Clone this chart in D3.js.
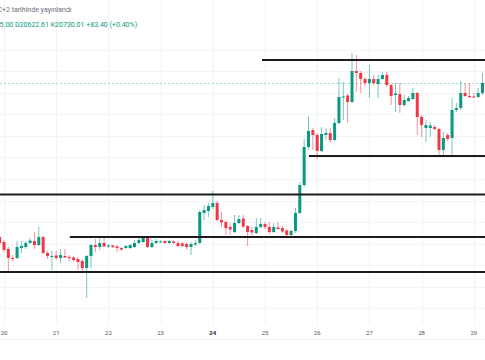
<!DOCTYPE html>
<html><head><meta charset="utf-8">
<script src="https://cdn.jsdelivr.net/npm/d3@7"></script>
<style>html,body{margin:0;padding:0;background:#fff;overflow:hidden}svg{display:block}</style>
</head><body>
<svg id="c" width="485" height="360"></svg>
<script>
// ---- data ----
const dayValues = [20, 21, 22, 23, 24, 25, 26, 27, 28, 29];
const dayLabels = ["20", "21", "22", "23", "24", "25", "26", "27", "28", "29"];
const boldDay = 24;
const firstCandleHour = -2;   // hours after Oct 20 00:00
const candleStepHours = 2;    // 2h candles

const opens = [
  19190,19140,19070,18980,18980,19080,19090,19130,19150,19110,19190,19030,
  18990,19005,18980,19000,18990,18985,18970,18950,18880,19000,19110,19090,
  19130,19095,19105,19095,19080,19080,19080,19090,19130,19140,19180,19090,
  19130,19135,19150,19130,19145,19130,19125,19120,19090,19115,19130,19430,
  19450,19490,19530,19360,19340,19290,19240,19330,19375,19300,19260,19230,
  19290,19320,19290,19240,19285,19280,19255,19210,19250,19430,19710,20090,
  20260,20210,20050,20210,20230,20160,20330,20585,20605,20540,20850,20830,
  20770,20730,20770,20720,20770,20810,20710,20610,20620,20510,20550,20570,
  20630,20390,20280,20280,20290,20270,20060,20210,20180,20460,20480,20630,
  20600,20595,20590,20630];
const highs = [
  19230,19160,19090,19010,19150,19150,19150,19180,19240,19290,19200,19050,
  19050,19050,19070,19070,19010,19000,18990,18970,19010,19120,19170,19190,
  19190,19120,19110,19110,19090,19110,19120,19160,19190,19190,19190,19160,
  19170,19160,19160,19160,19160,19150,19140,19140,19140,19160,19460,19510,
  19530,19650,19550,19440,19360,19330,19410,19410,19410,19310,19290,19380,
  19380,19340,19340,19330,19340,19300,19270,19260,19480,19740,20170,20400,
  20280,20230,20290,20280,20280,20380,20780,20740,20620,21030,21010,20850,
  20790,20910,20810,20810,20840,20840,20720,20730,20730,20610,20600,20680,
  20640,20410,20360,20340,20310,20280,20240,20230,20580,20530,20750,20730,
  20730,20630,20680,20830];
const lows = [
  19110,19040,18830,18950,18970,19030,19070,19120,19070,19100,19020,18970,
  18860,18960,18930,18980,18950,18940,18860,18840,18580,18880,19040,19060,
  19090,19080,19080,19040,19050,19070,19070,19080,19120,19130,19080,19080,
  19120,19130,19120,19120,19120,19090,19090,19060,19010,19100,19120,19360,
  19390,19470,19350,19290,19210,19210,19230,19320,19280,19100,19180,19220,
  19280,19270,19220,19230,19260,19230,19200,19200,19230,19420,19690,20060,
  20060,19970,20040,20160,20130,20150,20310,20360,20330,20530,20640,20630,
  20700,20580,20710,20580,20760,20690,20510,20440,20430,20490,20540,20560,
  20210,20190,20140,20190,20260,20010,20010,20150,19990,20440,20460,20590,
  20580,20580,20580,20610];
const closes = [
  19130,19060,18980,18970,19090,19100,19130,19155,19110,19190,19030,19000,
  19000,18980,19010,18985,18980,18960,18940,18880,19000,19110,19090,19130,
  19095,19105,19090,19080,19065,19100,19110,19130,19160,19185,19090,19130,
  19150,19145,19130,19150,19130,19100,19100,19090,19120,19130,19440,19460,
  19500,19530,19360,19335,19280,19265,19330,19370,19295,19240,19235,19290,
  19320,19290,19240,19290,19270,19245,19210,19250,19430,19710,20090,20250,
  20210,20050,20220,20230,20160,20330,20590,20595,20540,20850,20830,20770,
  20730,20770,20730,20770,20810,20710,20600,20625,20510,20560,20580,20630,
  20390,20310,20310,20305,20270,20060,20180,20170,20460,20480,20630,20600,
  20590,20585,20630,20730];

// drawn support / resistance levels
const levelPrices = [20960, 20000, 19615, 19190, 18840];
const levelStartHours = [118.6, 140.2, -4, 30.3, -4];

// faint horizontal grid levels
const gridPrices = [21060, 20850, 20630, 20420, 20200, 19990, 19770, 19550, 19340, 19120, 18910, 18690, 18480];

const headerLine1 = "UTC+2 tarihinde yayınlandı";
const headerLine2 = "A20646.61 Y20835.00 D20622.61 K20730.01 +83.40 (+0.40%)";

// ---- drawing ----
const W = 485, H = 360;
const plotBottom = 324;
const UP = "#089981", DOWN = "#f23645";
const svg = d3.select("#c");

const x = d3.scaleLinear().domain([20, 29]).range([4, 473.8]);
const y = d3.scaleLinear().domain([18600, 21000]).range([296, 56]);

const candles = opens.map((o, i) => ({
  t: 20 + (firstCandleHour + i * candleStepHours) / 24,
  o, h: highs[i], l: lows[i], c: closes[i]
}));

svg.append("defs").append("clipPath").attr("id", "plot")
  .append("rect").attr("x", 0).attr("y", 0).attr("width", W).attr("height", plotBottom);

// grid
const grid = svg.append("g").attr("clip-path", "url(#plot)");
grid.selectAll("line.v").data(dayValues).join("line")
  .attr("x1", d => Math.round(x(d)) + 0.5).attr("x2", d => Math.round(x(d)) + 0.5)
  .attr("y1", 0).attr("y2", plotBottom)
  .attr("stroke", "#f0f2f6").attr("stroke-width", 1);
grid.selectAll("line.h").data(gridPrices).join("line")
  .attr("x1", 0).attr("x2", W)
  .attr("y1", d => Math.round(y(d)) + 0.5).attr("y2", d => Math.round(y(d)) + 0.5)
  .attr("stroke", "#f3f4f7").attr("stroke-width", 1);

// last price dashed line
const lastClose = closes[closes.length - 1];
svg.append("line")
  .attr("x1", 0).attr("x2", W)
  .attr("y1", Math.round(y(lastClose)) + 0.5).attr("y2", Math.round(y(lastClose)) + 0.5)
  .attr("stroke", UP).attr("stroke-opacity", 0.4)
  .attr("stroke-dasharray", "2,2").attr("stroke-width", 1);

// candles
const cg = svg.append("g").attr("clip-path", "url(#plot)");
const cand = cg.selectAll("g.c").data(candles).join("g");
cand.append("line")
  .attr("x1", d => x(d.t)).attr("x2", d => x(d.t))
  .attr("y1", d => y(d.h)).attr("y2", d => y(d.l))
  .attr("stroke", d => d.c >= d.o ? UP : DOWN)
  .attr("stroke-opacity", 0.55).attr("stroke-width", 1);
cand.append("rect")
  .attr("x", d => x(d.t) - 1.5).attr("width", 3)
  .attr("y", d => y(Math.max(d.o, d.c)))
  .attr("height", d => Math.max(1, Math.abs(y(d.o) - y(d.c))))
  .attr("fill", d => d.c >= d.o ? UP : DOWN);

// levels
svg.append("g").selectAll("line").data(levelPrices).join("line")
  .attr("x1", (d, i) => Math.max(0, x(20 + levelStartHours[i] / 24)))
  .attr("x2", W)
  .attr("y1", d => y(d)).attr("y2", d => y(d))
  .attr("stroke", "#1c1c1e").attr("stroke-width", 2);

// x axis labels
const ax = svg.append("g");
ax.selectAll("text").data(dayValues).join("text")
  .attr("x", d => x(d)).attr("y", 334.5)
  .attr("text-anchor", "middle")
  .attr("font-family", "Roboto, sans-serif").attr("font-size", 6)
  .attr("font-weight", d => d === boldDay ? "bold" : "normal")
  .attr("fill", d => d === boldDay ? "#222" : "#555")
  .text((d, i) => dayLabels[i]);
svg.append("line").attr("x1", 0).attr("x2", W).attr("y1", 339.5).attr("y2", 339.5)
  .attr("stroke", "#eceef2").attr("stroke-width", 1);

// header
const t1 = svg.append("text").attr("y", 11.5)
  .attr("font-family", "Roboto, sans-serif").attr("font-size", 7)
  .attr("fill", "#6a6d78").text(headerLine1);
const w1 = t1.node().getSubStringLength(0, headerLine1.indexOf("+"));
t1.attr("x", 2 - w1);

const t2 = svg.append("text").attr("y", 26.8)
  .attr("font-family", "Roboto, sans-serif").attr("font-size", 7)
  .attr("fill", UP).text(headerLine2);
const w2 = t2.node().getSubStringLength(0, headerLine2.indexOf("D2"));
t2.attr("x", 15 - w2);
</script>
</body></html>
